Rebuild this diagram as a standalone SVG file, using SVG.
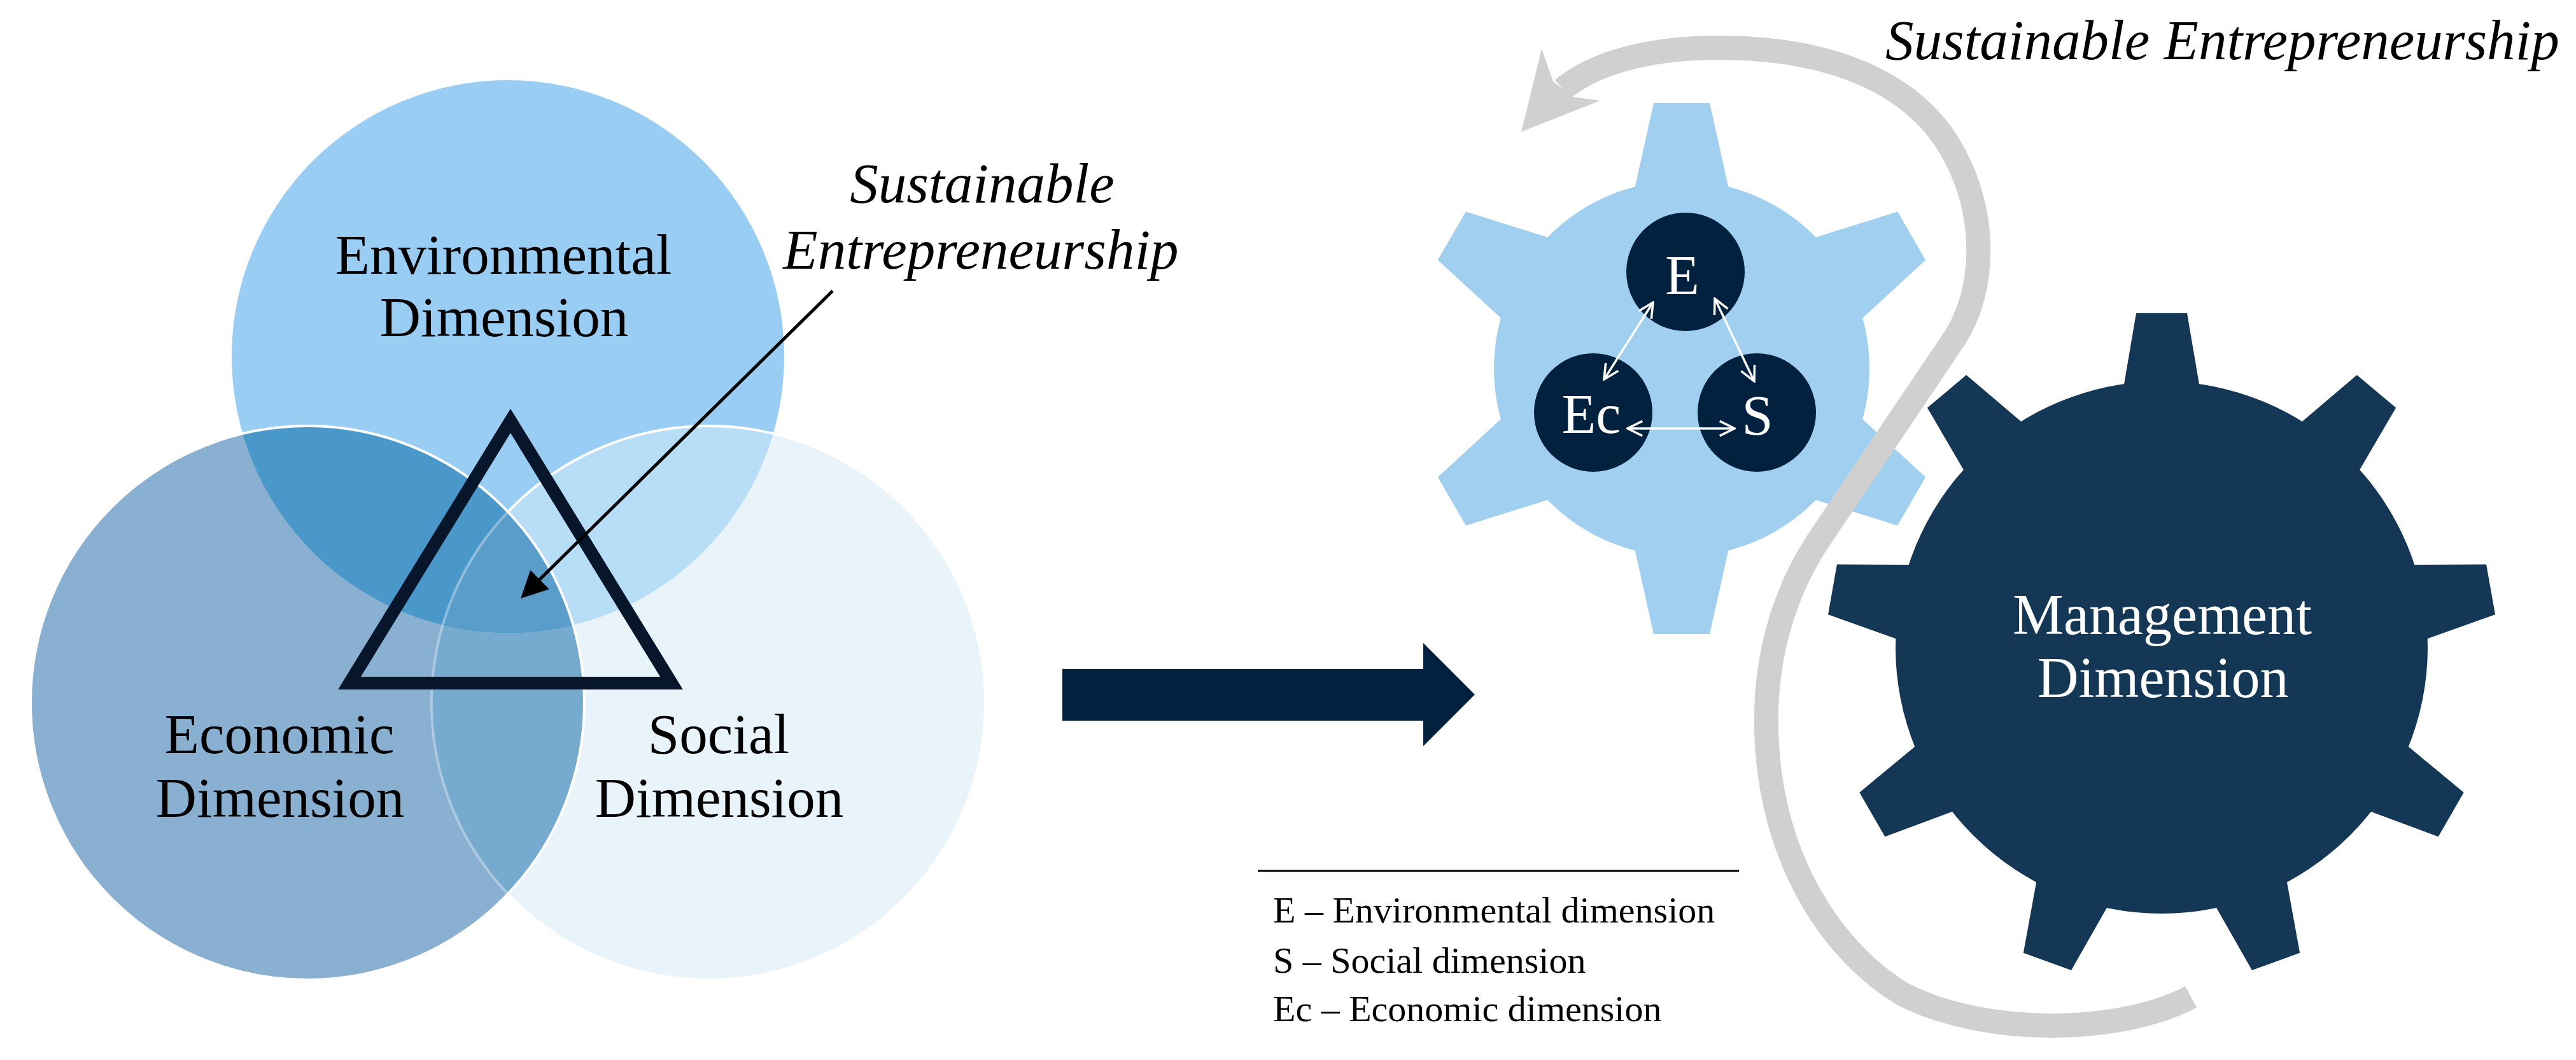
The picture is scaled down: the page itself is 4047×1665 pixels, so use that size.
<svg xmlns="http://www.w3.org/2000/svg" width="4047" height="1665" viewBox="0 0 4047 1665">
<defs>
<style>
.serif{font-family:"Liberation Serif","Times New Roman",serif}
.lbl{font-size:89px;fill:#000;text-anchor:middle}
.ital{font-style:italic;font-size:89px;fill:#000}
.wt{fill:#fff;text-anchor:middle}
.leg{font-size:58px;fill:#000}
.dk{fill:#01213F}
.warrow{stroke:#fff;stroke-width:3.5;fill:none;marker-start:url(#wh);marker-end:url(#wh)}
</style>
<clipPath id="cEnv"><circle cx="798" cy="560" r="434"/></clipPath>
<clipPath id="cEcon"><circle cx="483" cy="1104" r="435"/></clipPath>
<clipPath id="cSoc"><circle cx="1113" cy="1104" r="435"/></clipPath>
<polygon id="toothS" points="-44,-417 44,-417 79,-260 -79,-260"/>
<polygon id="toothB" points="-40,-525 40,-525 63,-390 -63,-390"/>
<marker id="wh" viewBox="0 0 12 12" refX="11" refY="6" markerWidth="8" markerHeight="8" orient="auto-start-reverse" markerUnits="strokeWidth"><path d="M1,1 L11,6 L1,11" fill="none" stroke="#fff" stroke-width="1.5"/></marker>
</defs>
<rect width="4047" height="1665" fill="#fff"/>

<g id="venn">
  <g id="env-circle"><circle cx="798" cy="560" r="434" fill="#9ACDF3"/></g>
  <g id="social-circle">
    <circle cx="1113" cy="1104" r="435" fill="#E8F3FA"/>
    <circle cx="1113" cy="1104" r="435" fill="#B8DDF6" clip-path="url(#cEnv)"/>
    <circle cx="1113" cy="1104" r="435" fill="none" stroke="#fff" stroke-width="4"/>
  </g>
  <g id="econ-circle">
    <circle cx="483" cy="1104" r="435" fill="#8AB0D1"/>
    <circle cx="1113" cy="1104" r="435" fill="#76AACE" clip-path="url(#cEcon)"/>
    <circle cx="798" cy="560" r="434" fill="#4A98CA" clip-path="url(#cEcon)"/>
    <g clip-path="url(#cEcon)"><circle cx="798" cy="560" r="434" fill="#5A9DCA" clip-path="url(#cSoc)"/></g>
    <circle cx="1113" cy="1104" r="435" fill="none" stroke="#fff" stroke-opacity="0.35" stroke-width="4" clip-path="url(#cEcon)"/>
    <circle cx="483" cy="1104" r="435" fill="none" stroke="#fff" stroke-width="4"/>
  </g>
  <g id="triangle"><polygon points="802,661 1055,1073 549,1073" fill="none" stroke="#07162B" stroke-width="20" stroke-linejoin="miter" stroke-miterlimit="10"/></g>
  <g id="env-label" class="serif lbl"><text x="791" y="430">Environmental</text><text x="792" y="528">Dimension</text></g>
  <g id="econ-label" class="serif lbl"><text x="439" y="1183">Economic</text><text x="440" y="1283">Dimension</text></g>
  <g id="social-label" class="serif lbl"><text x="1129" y="1183">Social</text><text x="1130" y="1283">Dimension</text></g>
  <g id="se-label" class="serif ital" text-anchor="middle"><text x="1543" y="318">Sustainable</text><text x="1541" y="422">Entrepreneurship</text></g>
</g>

<g id="small-gear">
  <g fill="#A1CFEF" transform="translate(2642,579)">
    <circle r="295"/>
    <use href="#toothS"/>
    <use href="#toothS" transform="rotate(60)"/>
    <use href="#toothS" transform="rotate(120)"/>
    <use href="#toothS" transform="rotate(180)"/>
    <use href="#toothS" transform="rotate(240)"/>
    <use href="#toothS" transform="rotate(300)"/>
  </g>
  <g id="node-E"><circle class="dk" cx="2648" cy="427" r="93"/><text class="serif wt" x="2643" y="462" font-size="88">E</text></g>
  <g id="node-Ec"><circle class="dk" cx="2503" cy="648" r="93"/><text class="serif wt" x="2500" y="680" font-size="88">Ec</text></g>
  <g id="node-S"><circle class="dk" cx="2760" cy="648" r="93"/><text class="serif wt" x="2761" y="682" font-size="88">S</text></g>
</g>

<g id="big-gear">
  <g fill="#133755" transform="translate(3396,1017)">
    <circle r="418"/>
    <use href="#toothB"/>
    <use href="#toothB" transform="rotate(40)"/>
    <use href="#toothB" transform="rotate(80)"/>
    <use href="#toothB" transform="rotate(120)"/>
    <use href="#toothB" transform="rotate(160)"/>
    <use href="#toothB" transform="rotate(200)"/>
    <use href="#toothB" transform="rotate(240)"/>
    <use href="#toothB" transform="rotate(280)"/>
    <use href="#toothB" transform="rotate(320)"/>
  </g>
  <g class="serif wt" font-size="90"><text x="3397" y="996">Management</text><text x="3398" y="1095">Dimension</text></g>
</g>

<g id="connectors">
  <g id="pointer-arrow">
    <line x1="1308" y1="457" x2="845" y2="913" stroke="#000" stroke-width="5"/>
    <polygon points="818,940 862.7,925.5 833.3,895.5" fill="#000"/>
  </g>
  <g id="transition-arrow"><polygon points="1669,1051 2236,1051 2236,1010 2317,1091 2236,1172 2236,1132 1669,1132" fill="#02213F"/></g>
  <g id="cycle-arrow">
    <path d="M 3442 1566 C 3330 1625, 3120 1628, 2990 1562 C 2870 1490, 2770 1330, 2775 1115 C 2778 1010, 2810 920, 2856 850 L 3071 531 C 3120 455, 3125 330, 3060 225 C 2990 115, 2850 75, 2700 75 C 2600 75, 2510 95, 2455 140" fill="none" stroke="#D0D0D0" stroke-width="38"/>
    <polygon points="2390,207 2422,77 2440,128 2470,152 2514,158" fill="#D0D0D0"/>
  </g>
  <g id="dimension-links">
    <line class="warrow" x1="2597" y1="475" x2="2520" y2="596"/>
    <line class="warrow" x1="2694" y1="469" x2="2756" y2="599"/>
    <line class="warrow" x1="2557" y1="673" x2="2725" y2="673"/>
  </g>
</g>

<g id="title"><text class="serif ital" x="2962" y="93" font-size="88">Sustainable Entrepreneurship</text></g>

<g id="legend">
  <line x1="1976" y1="1368" x2="2732" y2="1368" stroke="#000" stroke-width="3"/>
  <g class="serif leg">
    <text x="2000" y="1449">E – Environmental dimension</text>
    <text x="2000" y="1528">S – Social dimension</text>
    <text x="2000" y="1604">Ec – Economic dimension</text>
  </g>
</g>
</svg>
